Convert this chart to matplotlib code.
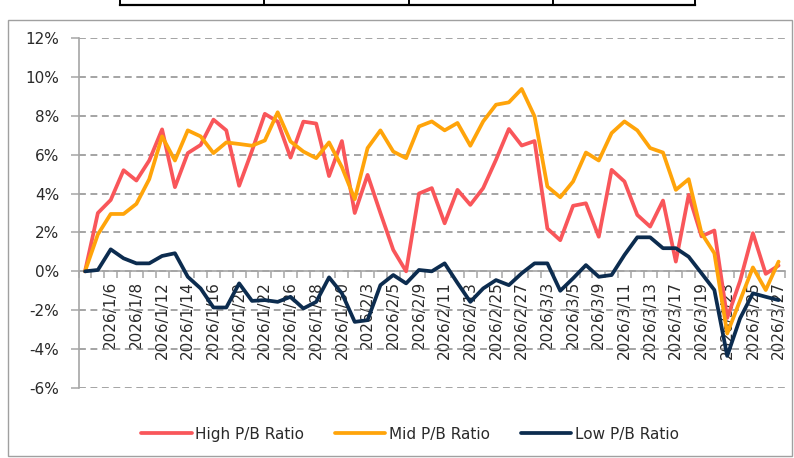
import matplotlib
matplotlib.use('Agg')
import matplotlib.pyplot as plt
import numpy as np
from matplotlib.patches import Rectangle
from matplotlib.lines import Line2D

dates = ['', '2026/1/5', '2026/1/6', '2026/1/7', '2026/1/8', '2026/1/9', '2026/1/12', '2026/1/13',
         '2026/1/14', '2026/1/15', '2026/1/16', '2026/1/19', '2026/1/20', '2026/1/21', '2026/1/22',
         '2026/1/23', '2026/1/26', '2026/1/27', '2026/1/28', '2026/1/29', '2026/1/30', '2026/2/2',
         '2026/2/3', '2026/2/4', '2026/2/5', '2026/2/6', '2026/2/9', '2026/2/10', '2026/2/11',
         '2026/2/12', '2026/2/13', '2026/2/24', '2026/2/25', '2026/2/26', '2026/2/27', '2026/3/2',
         '2026/3/3', '2026/3/4', '2026/3/5', '2026/3/6', '2026/3/9', '2026/3/10', '2026/3/11',
         '2026/3/12', '2026/3/13', '2026/3/16', '2026/3/17', '2026/3/18', '2026/3/19', '2026/3/20',
         '2026/3/23', '2026/3/24', '2026/3/25', '2026/3/26', '2026/3/27']

high_pb = [0, 3.0, 3.67, 5.2, 4.67, 5.7, 7.3, 4.33, 6.08, 6.5, 7.8,
           7.25, 4.4, 6.2, 8.1, 7.7, 5.85, 7.7, 7.6, 4.9, 6.7,
           3.0, 4.96, 3.0, 1.1, 0.0, 4.0, 4.28, 2.47, 4.19, 3.42,
           4.28, 5.74, 7.32, 6.47, 6.7, 2.2, 1.6, 3.37, 3.5, 1.78,
           5.22, 4.62, 2.9, 2.3, 3.64, 0.5, 3.93, 1.8, 2.1, -2.4,
           -0.5, 1.96, -0.13, 0.3]

mid_pb = [0, 1.9, 2.95, 2.95, 3.47, 4.74, 6.94, 5.7, 7.25, 6.94, 6.08,
          6.63, 6.55, 6.46, 6.73, 8.18, 6.68, 6.16, 5.82, 6.63, 5.36,
          3.71, 6.34, 7.25, 6.16, 5.82, 7.45, 7.71, 7.25, 7.63, 6.46,
          7.71, 8.57, 8.69, 9.38, 7.97, 4.36, 3.81, 4.62, 6.11, 5.7,
          7.11, 7.71, 7.25, 6.34, 6.11, 4.19, 4.74, 1.96, 0.93, -3.2,
          -1.5, 0.2, -0.96, 0.5]

low_pb = [0, 0.07, 1.13, 0.67, 0.41, 0.41, 0.79, 0.93, -0.28, -0.88, -1.86,
          -1.86, -0.62, -1.52, -1.48, -1.57, -1.31, -1.91, -1.57, -0.31, -1.13,
          -2.6, -2.51, -0.71, -0.19, -0.62, 0.07, 0.0, 0.41, -0.6, -1.57,
          -0.88, -0.45, -0.71, -0.1, 0.41, 0.41, -1.0, -0.36, 0.32, -0.28,
          -0.19, 0.84, 1.75, 1.75, 1.19, 1.19, 0.75, -0.1, -0.96, -4.35,
          -2.42, -1.13, -1.31, -1.48]

series_names = ['High P/B Ratio', 'Mid P/B Ratio', 'Low P/B Ratio']
y_ticks = list(range(-6, 13, 2))

RED = '#F9565A'
ORANGE = '#FFA40A'
NAVY = '#0C2C4F'
TXT = '#2a2a2a'
AXC = '#a6a6a6'

plt.rcParams['font.family'] = ['DejaVu Sans']

W, H = 794, 458
fig = plt.figure(figsize=(W / 100, H / 100), dpi=100)
left, right, top, bottom = 78.6, 785.0, 38.0, 388.0
ax = fig.add_axes([left / W, 1 - bottom / H, (right - left) / W, (bottom - top) / H])

x = np.arange(len(dates))
for vals, col, name in zip([high_pb, mid_pb, low_pb], [RED, ORANGE, NAVY], series_names):
    ax.plot(x, vals, color=col, lw=2.7, label=name, solid_joinstyle='round',
            solid_capstyle='round', zorder=3, clip_on=False)

ax.set_xlim(-0.5, len(dates) - 0.5)
ax.set_ylim(-6, 12)
ax.set_yticks(y_ticks)
ax.set_yticklabels([f'{v}%' for v in y_ticks], fontsize=11, color=TXT)
ax.yaxis.grid(True, linestyle=(0, (4.5, 3)), color='#8c8c8c', lw=1.1, zorder=1)
ax.set_axisbelow(True)

for s in ['top', 'right']:
    ax.spines[s].set_visible(False)
ax.spines['bottom'].set_position(('data', 0))
ax.spines['bottom'].set_color(AXC)
ax.spines['left'].set_color(AXC)
ax.spines['bottom'].set_linewidth(1.2)
ax.spines['left'].set_linewidth(1.2)
ax.spines['bottom'].set_zorder(2)

# ticks at category boundaries, labels at every other category center
ax.set_xticks(np.arange(-0.5, len(dates), 1.0))
ax.set_xticklabels([])
lab_idx = [i for i in range(0, len(dates), 2) if dates[i]]
ax.set_xticks(lab_idx, minor=True)
ax.set_xticklabels([dates[i] for i in lab_idx], minor=True, rotation=90,
                   fontsize=11, color=TXT)
ax.tick_params(axis='x', which='major', length=5, color=AXC, width=1.1, direction='out')
ax.tick_params(axis='x', which='minor', length=0, pad=7)
ax.tick_params(axis='y', length=6, color=AXC, width=1.1, pad=8)

fig.legend(loc='center', bbox_to_anchor=(410 / W, 1 - 434 / H), ncol=3, frameon=False,
           fontsize=11, handlelength=3.3, handletextpad=0.25, columnspacing=2.0,
           labelcolor=TXT)

# outer chart frame
fig.add_artist(Rectangle((8 / W, 1 - 456 / H), (792 - 8) / W, (456 - 20) / H,
                         transform=fig.transFigure, fill=False, ec='#a0a0a0', lw=1.0))
# fragment of table above the chart
fig.add_artist(Line2D([120 / W, 695 / W], [1 - 5 / H, 1 - 5 / H], transform=fig.transFigure,
                      color='black', lw=1.6))
for xv in [120, 264, 409, 553, 695]:
    fig.add_artist(Line2D([xv / W, xv / W], [1 - 5 / H, 1.0], transform=fig.transFigure,
                          color='black', lw=1.4))

fig.savefig('out.png', dpi=100)
